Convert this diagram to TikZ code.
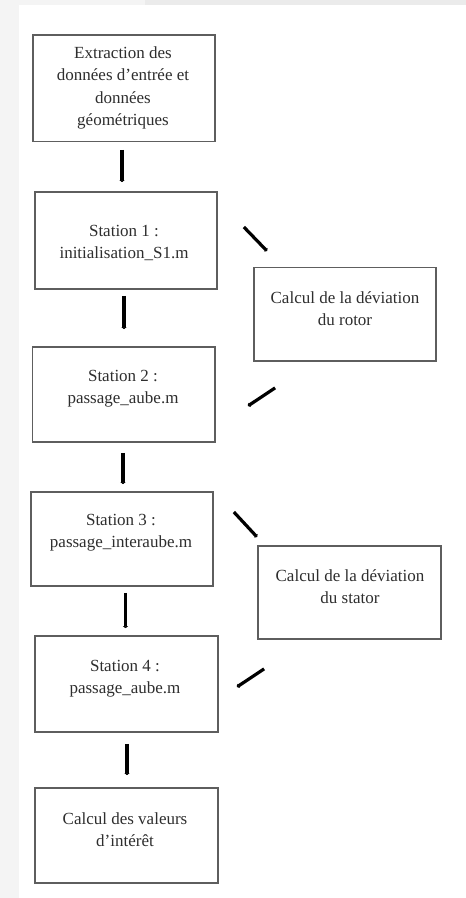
\documentclass[tikz,border=0pt]{standalone}
\usepackage{fontspec}
\setmainfont{Liberation Serif}
\usetikzlibrary{arrows.meta,calc}
\definecolor{boxline}{HTML}{5E5E5E}
\definecolor{txt}{HTML}{2E2E2E}
\definecolor{stripA}{HTML}{F4F4F4}
\definecolor{stripB}{HTML}{EBEBEB}
\begin{document}
\begin{tikzpicture}[x=1pt,y=-1pt,
  box/.style={draw=boxline,line width=1.7pt,rectangle,inner sep=0pt},
  lbl/.style={align=center,text=txt,font=\fontsize{17}{22.3}\selectfont,inner sep=0pt},
  arr/.style={line width=3.2pt,-{Triangle[width=5pt,length=2pt]}},
]
\useasboundingbox (0,0) rectangle (466,898);
\fill[white] (0,0) rectangle (466,898);
\fill[stripA] (0,0) rectangle (19,898);
\fill[stripA] (19,0) rectangle (145,5);
\fill[stripB] (145,0) rectangle (466,5);

% boxes
\node[box,minimum width=182pt,minimum height=106.5pt] (b1) at (124,88.25) {};
\node[box,minimum width=182pt,minimum height=97pt] (s1) at (126,240.5) {};
\node[box,minimum width=182pt,minimum height=93.5pt] (rotor) at (345,314.25) {};
\node[box,minimum width=182.5pt,minimum height=95pt] (s2) at (123.75,394.5) {};
\node[box,minimum width=182pt,minimum height=94pt] (s3) at (122,539) {};
\node[box,minimum width=183pt,minimum height=93pt] (stator) at (349.5,592.5) {};
\node[box,minimum width=183pt,minimum height=96pt] (s4) at (126.5,684) {};
\node[box,minimum width=183pt,minimum height=95pt] (fin) at (126.5,835.5) {};

% labels
\node[lbl] (t1) at (123,88) {Extraction des\\données d’entrée et\\données\\géométriques};
\node[lbl] (ts1) at (124,243) {Station 1 :\\initialisation\_S1.m};
\node[lbl] (trotor) at (345,308.5) {Calcul de la déviation\\du rotor};
\node[lbl] (ts2) at (123,389) {Station 2 :\\passage\_aube.m};
\node[lbl] (ts3) at (121,533) {Station 3 :\\passage\_interaube.m};
\node[lbl] (tstator) at (350,587) {Calcul de la déviation\\du stator};
\node[lbl] (ts4) at (125,679) {Station 4 :\\passage\_aube.m};
\node[lbl] (tfin) at (125,830) {Calcul des valeurs\\d’intérêt};

% vertical arrows
\draw[arr,shorten <=7.5pt,shorten >=9pt] ($(b1.south)+(-2,0)$) -- ($(s1.north)+(-4,0)$);
\draw[arr,shorten <=6pt,shorten >=17pt] ($(s1.south)+(-2,0)$) -- ($(s2.north)+(0.25,0)$);
\draw[arr,shorten <=10pt,shorten >=7pt] ($(s2.south)+(-0.75,0)$) -- ($(s3.north)+(1,0)$);
\draw[arr,shorten <=6pt,shorten >=7pt] ($(s3.south)+(3.5,0)$) -- ($(s4.north)+(-1,0)$);
\draw[arr,shorten <=11pt,shorten >=12pt] ($(s4.south)+(0.5,0)$) -- ($(fin.north)+(0.5,0)$);

% diagonal arrows
\draw[arr] ($(s1.east)+(26,-13.5)$) -- ($(rotor.north west)+(14,-15.5)$);
\draw[arr] ($(rotor.south west)+(22,26)$) -- ($(s2.east)+(32,11.5)$);
\draw[arr] ($(s3.east)+(20,-27)$) -- ($(stator.north west)+(0,-8)$);
\draw[arr] ($(stator.south west)+(7,29)$) -- ($(s4.east)+(18,3)$);
\end{tikzpicture}
\end{document}
